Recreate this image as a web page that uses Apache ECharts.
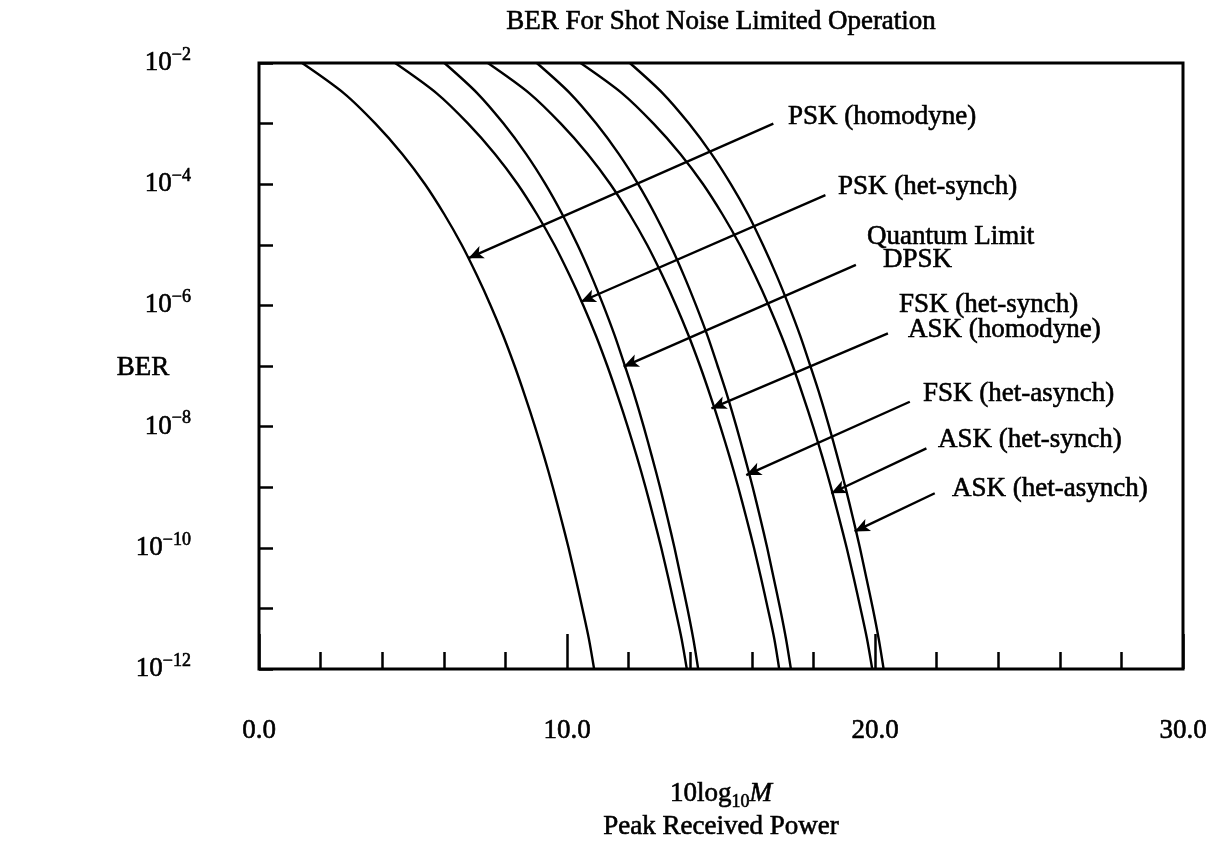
<!DOCTYPE html>
<html><head><meta charset="utf-8">
<script src="https://cdn.jsdelivr.net/npm/echarts@6/dist/echarts.min.js"></script>
<style>html,body{margin:0;padding:0;background:#fff}#c{width:1219px;height:844px}</style>
</head><body><div id="c"></div>
<script>
// BER levels (log10 of BER) at which the curve positions were read
const berExp = [-2,-2.5,-3,-3.5,-4,-4.5,-5,-5.5,-6,-6.5,-7,-7.5,-8,-8.5,-9,-9.5,-10,-10.5,-11,-11.5,-12];
// 10log10(M) read for each curve at those BER levels
const pskHomodyne = [1.40,2.76,3.78,4.65,5.39,6.02,6.58,7.07,7.52,7.93,8.30,8.64,8.96,9.26,9.54,9.80,10.05,10.28,10.50,10.71,10.88];
const pskHetSynch = [4.42,5.77,6.79,7.66,8.40,9.03,9.59,10.08,10.53,10.94,11.31,11.65,11.97,12.27,12.55,12.81,13.06,13.29,13.51,13.72,13.89];
const quantumLimitDpsk = [6.02,7.09,7.94,8.67,9.30,9.85,10.34,10.78,11.18,11.55,11.88,12.20,12.49,12.76,13.02,13.26,13.49,13.70,13.91,14.10,14.26];
const fskHetSynchAskHomodyne = [7.43,8.78,9.80,10.67,11.41,12.04,12.60,13.09,13.54,13.95,14.32,14.66,14.98,15.28,15.56,15.82,16.07,16.30,16.52,16.73,16.89];
const fskHetAsynch = [9.02,10.10,10.95,11.68,12.31,12.86,13.35,13.79,14.19,14.56,14.89,15.21,15.50,15.77,16.03,16.27,16.50,16.71,16.92,17.11,17.27];
const askHetSynch = [10.44,11.79,12.81,13.68,14.42,15.05,15.61,16.10,16.55,16.96,17.33,17.67,17.99,18.29,18.57,18.83,19.08,19.31,19.53,19.74,19.91];
const askHetAsynch = [12.04,13.11,13.96,14.69,15.32,15.88,16.36,16.80,17.20,17.57,17.90,18.22,18.51,18.78,19.04,19.28,19.51,19.72,19.93,20.12,20.28];

const curveNames = ["PSK (homodyne)","PSK (het-synch)","Quantum Limit / DPSK","FSK (het-synch) / ASK (homodyne)","FSK (het-asynch)","ASK (het-synch)","ASK (het-asynch)"];
const curves = [pskHomodyne,pskHetSynch,quantumLimitDpsk,fskHetSynchAskHomodyne,fskHetAsynch,askHetSynch,askHetAsynch];

// annotation arrows, in data coordinates [10log10M, log10 BER]
const arrowTail = [[16.70,-3.00],[18.39,-4.18],[19.38,-5.33],[20.42,-6.46],[21.13,-7.59],[21.67,-8.36],[21.94,-9.10]];
const arrowHead = [[6.80,-5.22],[10.45,-5.94],[11.84,-7.01],[14.69,-7.70],[15.82,-8.80],[18.58,-9.10],[19.34,-9.73]];
const annotationText = [["PSK (homodyne)"],["PSK (het-synch)"],["Quantum Limit","DPSK"],["FSK (het-synch)","ASK (homodyne)"],["FSK (het-asynch)"],["ASK (het-synch)"],["ASK (het-asynch)"]];

const titleText = "BER For Shot Noise Limited Operation";
const yName = "BER";

const FF = '"Liberation Serif","Times New Roman",serif';
const FS = 27;
const TW = 0.6; // slight stroke to mimic the heavier scanned type

// label layout (pixels): [left, middle-y] for each text line
const labelLayout = [
  [[788,117]],
  [[838,187]],
  [[867,237],[883,260]],
  [[899,305],[908,330]],
  [[923,394]],
  [[938,440]],
  [[952,489]]
];

const chart = echarts.init(document.getElementById('c'), null, {renderer:'canvas'});

const series = curves.map((vals, idx) => ({
  name: curveNames[idx],
  type: 'line',
  data: berExp.map((e, i) => [vals[i], e]),
  showSymbol: false,
  smooth: 0.3,
  silent: true,
  lineStyle: {color:'#000', width:2.4},
  emphasis: {disabled: true},
  z: 3
}));
series[0].markLine = {
  silent: true,
  animation: false,
  symbol: ['none','arrow'],
  symbolSize: [10,15],
  lineStyle: {color:'#000', width:2.4, type:'solid'},
  itemStyle: {color:'#000'},
  label: {show:false},
  emphasis: {disabled:true},
  data: arrowTail.map((t, i) => [{coord: t}, {coord: arrowHead[i]}])
};

function txt(x, y, text, align) {
  return {type:'text', x:x, y:y, style:{text:text, font: FS+'px '+FF, fill:'#000', stroke:'#000', lineWidth:TW, align:align, verticalAlign:'middle'}};
}

const graphics = [];
graphics.push(txt(721, 22, titleText, 'center'));
graphics.push(txt(143, 368, yName, 'center'));
graphics.push({type:'text', x:721, y:794, style:{
  text:'{n|10log}{s|10}{i|M}', align:'center', verticalAlign:'middle', fill:'#000',
  rich:{
    n:{fontSize:FS, fontFamily:FF, lineHeight:34, fill:'#000', stroke:'#000', lineWidth:TW},
    s:{fontSize:18, fontFamily:FF, lineHeight:18, verticalAlign:'bottom', fill:'#000', stroke:'#000', lineWidth:TW},
    i:{fontSize:FS, fontFamily:FF, fontStyle:'italic', lineHeight:34, fill:'#000', stroke:'#000', lineWidth:TW}
  }}});
graphics.push(txt(721, 827, 'Peak Received Power', 'center'));
annotationText.forEach((lines, i) => {
  lines.forEach((t, j) => {
    const p = labelLayout[i][j];
    graphics.push(txt(p[0], p[1], t, 'left'));
  });
});

chart.setOption({
  animation: false,
  backgroundColor: '#fff',
  grid: {left:259, right:36, top:63, bottom:175, show:true, borderColor:'#000', borderWidth:3, backgroundColor:'transparent', containLabel:false},
  xAxis: {
    type:'value', min:0, max:30, interval:10,
    axisLine:{show:false},
    axisTick:{show:true, inside:true, length:35, lineStyle:{color:'#000', width:2.5}},
    minorTick:{show:true, splitNumber:5, length:17, lineStyle:{color:'#000', width:2.5}},
    splitLine:{show:false}, minorSplitLine:{show:false},
    axisLabel:{margin:48, color:'#000', fontFamily:FF, fontSize:FS, textBorderColor:'#000', textBorderWidth:TW, formatter: v => v.toFixed(1)}
  },
  yAxis: {
    type:'value', min:-12, max:-2, interval:1,
    axisLine:{show:false},
    axisTick:{show:true, inside:true, length:14, lineStyle:{color:'#000', width:2.5}},
    splitLine:{show:false},
    axisLabel:{
      margin:68, color:'#000', fontFamily:FF, fontSize:FS,
      formatter: v => { const k = Math.round(v); return (k % 2 === 0) ? '{b|10}{s|\u2212' + Math.abs(k) + '}' : ''; },
      rich:{
        b:{fontSize:FS, fontFamily:FF, lineHeight:34, color:'#000', textBorderColor:'#000', textBorderWidth:TW},
        s:{fontSize:18, fontFamily:FF, lineHeight:24, verticalAlign:'top', color:'#000', textBorderColor:'#000', textBorderWidth:TW}
      }
    }
  },
  graphic: graphics,
  series: series
});
</script>
</body></html>
